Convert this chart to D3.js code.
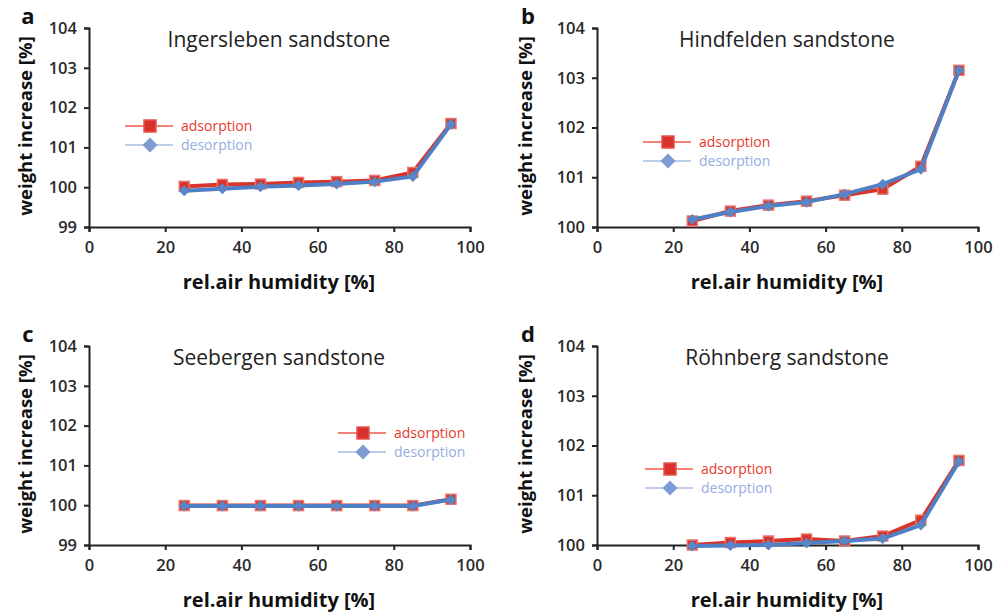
<!DOCTYPE html>
<html>
<head>
<meta charset="utf-8">
<script src="https://cdn.jsdelivr.net/npm/d3@7"></script>
<style>
  body { margin: 0; background: #fff; }
  svg { display: block; font-family: "Open Sans", sans-serif; }
</style>
</head>
<body>
<svg width="1003" height="613"></svg>
<script>
const humidity = [25, 35, 45, 55, 65, 75, 85, 95];
const xTicks = [0, 20, 40, 60, 80, 100];

const ingerslebenAds = [100.02, 100.07, 100.08, 100.12, 100.14, 100.17, 100.37, 101.6];
const ingerslebenDes = [99.91, 99.96, 100.01, 100.04, 100.08, 100.14, 100.27, 101.58];
const hindfeldenAds = [100.12, 100.32, 100.44, 100.52, 100.64, 100.76, 101.22, 103.15];
const hindfeldenDes = [100.15, 100.3, 100.42, 100.5, 100.66, 100.86, 101.16, 103.15];
const seebergenAds = [99.99, 99.99, 99.99, 99.99, 99.99, 99.99, 99.99, 100.15];
const seebergenDes = [99.98, 99.98, 99.98, 99.98, 99.98, 99.98, 99.98, 100.14];
const roehnbergAds = [100.0, 100.05, 100.08, 100.12, 100.08, 100.18, 100.5, 101.7];
const roehnbergDes = [99.98, 99.99, 100.0, 100.04, 100.08, 100.13, 100.4, 101.68];

const titles = ["Ingersleben sandstone", "Hindfelden sandstone", "Seebergen sandstone", "Röhnberg sandstone"];
const letters = ["a", "b", "c", "d"];
const yDomains = [[99, 104], [100, 104], [99, 104], [100, 104]];
const seriesNames = ["adsorption", "desorption"];

const adsColor = "#d8342a";
const desColor = "#4f7fc4";

// panel frames: left of plot, top of plot, legend position
const frames = [
  { ox: 0,   oy: 0,   px: 89,  pt: 28,  legX: 125, legY: 126 },
  { ox: 500, oy: 0,   px: 97,  pt: 28,  legX: 143, legY: 142 },
  { ox: 0,   oy: 310, px: 89,  pt: 36,  legX: 338, legY: 123 },
  { ox: 500, oy: 310, px: 97,  pt: 36,  legX: 145, legY: 159 }
];
const plotW = 381, plotH = 199;

const data = [
  [ingerslebenAds, ingerslebenDes],
  [hindfeldenAds, hindfeldenDes],
  [seebergenAds, seebergenDes],
  [roehnbergAds, roehnbergDes]
];

const svg = d3.select("svg");

function square(g, x, y, s, fill, stroke) {
  g.append("rect")
    .attr("x", x - s / 2).attr("y", y - s / 2)
    .attr("width", s).attr("height", s)
    .attr("fill", fill).attr("stroke", stroke).attr("stroke-width", 1.5);
}

function diamond(g, x, y, s, fill) {
  g.append("path")
    .attr("d", `M${x},${y - s / 2}L${x + s / 2},${y}L${x},${y + s / 2}L${x - s / 2},${y}Z`)
    .attr("fill", fill);
}

function drawPanel(i) {
  const f = frames[i];
  const g = svg.append("g").attr("transform", `translate(${f.ox}, ${f.oy})`);
  const plot = g.append("g").attr("transform", `translate(${f.px}, ${f.pt})`);

  const x = d3.scaleLinear().domain([0, 100]).range([0, plotW]);
  const y = d3.scaleLinear().domain(yDomains[i]).range([plotH, 0]);
  const yTicks = d3.range(yDomains[i][0], yDomains[i][1] + 1);

  const yAxis = plot.append("g")
    .call(d3.axisLeft(y).tickValues(yTicks).tickFormat(d3.format("d")).tickSize(5).tickPadding(7));
  const xAxis = plot.append("g")
    .attr("transform", `translate(0, ${plotH})`)
    .call(d3.axisBottom(x).tickValues(xTicks).tickSize(5).tickPadding(9));

  [yAxis, xAxis].forEach(ax => {
    ax.select(".domain").attr("stroke", "#222").attr("stroke-width", 2);
    ax.selectAll(".tick line").attr("stroke", "#222").attr("stroke-width", 2);
    ax.selectAll(".tick text")
      .attr("fill", "#2a2a2a")
      .style("font-family", "'Open Sans', sans-serif")
      .style("font-size", "16.5px")
      .style("font-weight", "600");
  });

  const line = d3.line()
    .x((d, j) => x(humidity[j]))
    .y(d => y(d));

  const ads = data[i][0], des = data[i][1];

  plot.append("path").datum(ads)
    .attr("d", line).attr("fill", "none")
    .attr("stroke", adsColor).attr("stroke-width", 4);
  ads.forEach((v, j) => square(plot, x(humidity[j]), y(v), 10, adsColor, "#e8766c"));

  plot.append("path").datum(des)
    .attr("d", line).attr("fill", "none")
    .attr("stroke", desColor).attr("stroke-width", 4);
  des.forEach((v, j) => diamond(plot, x(humidity[j]), y(v), 11, "#5a86c8"));

  // title
  g.append("text")
    .attr("x", f.px + 190).attr("y", f.pt + 19)
    .attr("text-anchor", "middle")
    .attr("fill", "#222")
    .style("font-size", "21px")
    .text(titles[i]);

  // panel letter
  g.append("text")
    .attr("x", 28).attr("y", f.pt - 4)
    .attr("text-anchor", "middle")
    .attr("fill", "#111")
    .style("font-size", "22px").style("font-weight", "700")
    .text(letters[i]);

  // axis titles
  g.append("text")
    .attr("transform", `translate(32, ${f.pt + 98}) rotate(-90)`)
    .attr("text-anchor", "middle")
    .attr("fill", "#111")
    .style("font-size", "18.5px").style("font-weight", "700")
    .text("weight increase [%]");

  g.append("text")
    .attr("x", f.px + 190).attr("y", f.pt + 261)
    .attr("text-anchor", "middle")
    .attr("fill", "#111")
    .style("font-size", "20px").style("font-weight", "700")
    .text("rel.air humidity [%]");

  // legend
  const leg = g.append("g").attr("transform", `translate(${f.legX}, ${f.legY})`);
  const legColors = [["#f0584a", "#e8392e"], ["#a9bce6", "#95acdf"]];
  seriesNames.forEach((name, k) => {
    const ly = k * 19;
    leg.append("line")
      .attr("x1", 0).attr("x2", 48).attr("y1", ly).attr("y2", ly)
      .attr("stroke", legColors[k][0]).attr("stroke-width", 1.5);
    if (k === 0) square(leg, 25, ly, 12, "#d8302a", "#e8564c");
    else diamond(leg, 25, ly, 15, "#7f9bd4");
    leg.append("text")
      .attr("x", 56).attr("y", ly + 5)
      .attr("fill", legColors[k][1])
      .style("font-size", "14px")
      .text(name);
  });
}

for (let i = 0; i < 4; i++) drawPanel(i);
</script>
</body>
</html>
